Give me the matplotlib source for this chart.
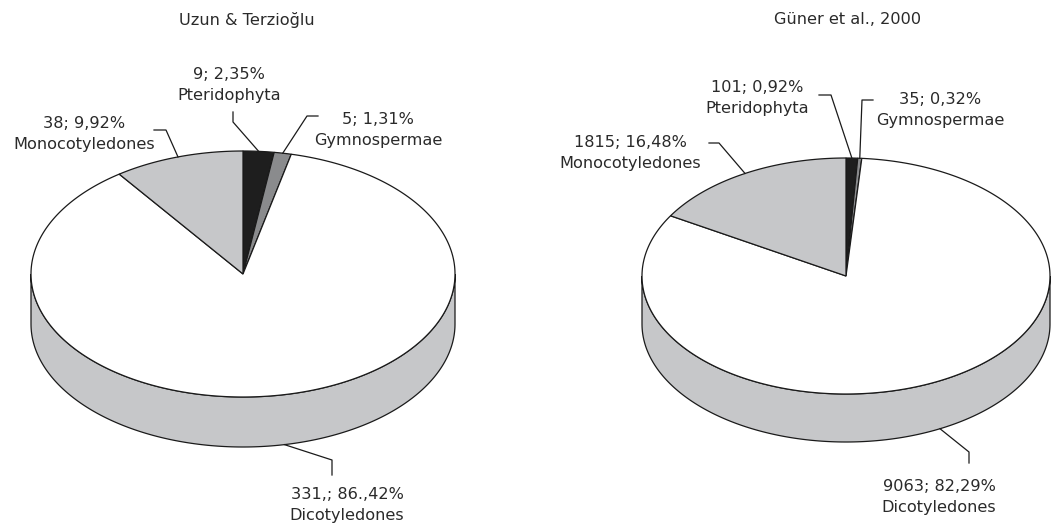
import numpy as np
import matplotlib
matplotlib.use("Agg")
import matplotlib.pyplot as plt
from matplotlib.patches import Polygon

# ---------------- data ----------------
categories = ["Pteridophyta", "Gymnospermae", "Dicotyledones", "Monocotyledones"]
uzun_counts = [9, 5, 331, 38]
guner_counts = [101, 35, 9063, 1815]
uzun_labels = ["9; 2,35%", "5; 1,31%", "331,; 86.,42%", "38; 9,92%"]
guner_labels = ["101; 0,92%", "35; 0,32%", "9063; 82,29%", "1815; 16,48%"]
titles = ["Uzun & Terzioğlu", "Güner et al., 2000"]

# ---------------- style ----------------
top_colors = ["#1e1e1e", "#8a8b8d", "#ffffff", "#c6c7c9"]
side_colors = ["#111111", "#6e6f71", "#c6c7c9", "#a9aaac"]
edge = "#1a1a1a"
txt = "#2a2a2a"
plt.rcParams['font.family'] = ['DejaVu Sans']
FS = 11.6

fig = plt.figure(figsize=(10.52, 5.25), dpi=100)
ax = fig.add_axes([0, 0, 1, 1])
ax.set_xlim(0, 1052)
ax.set_ylim(525, 0)
ax.axis("off")

# geometry of each pie (layout): centre, semi-axes, depth
pies = [
    dict(cx=243, cy=274, a=212, b=123, d=50, title_x=247),
    dict(cx=846, cy=276, a=204, b=118, d=48, title_x=848),
]
# label layout per pie: text block centre, elbow points (near label)
label_layout = [
    [((229, 85), [(233, 122), (233, 112)]),
     ((378, 130), [(307, 116), (318, 116)]),
     ((347, 505), [(332, 460), (332, 475)]),
     ((84, 134), [(166, 130), (154, 130)])],
    [((757, 98), [(831, 95), (819, 95)]),
     ((940, 110), [(862, 100), (873, 100)]),
     ((939, 497), [(969, 452), (969, 463)]),
     ((630, 153), [(719, 143), (709, 143)])],
]


def rim(p, th, down=0.0):
    th = np.asarray(th)
    return np.column_stack([p["cx"] + p["a"] * np.sin(th),
                            p["cy"] - p["b"] * np.cos(th) + down])


def draw_pie(p, counts, labels, layout, title):
    vals = np.array(counts, dtype=float)
    fr = vals / vals.sum()
    bounds = np.concatenate([[0], np.cumsum(fr)]) * 2 * np.pi
    # side faces (front half: theta in [pi/2, 3pi/2])
    for i in range(len(vals)):
        t1 = max(bounds[i], np.pi / 2)
        t2 = min(bounds[i + 1], 3 * np.pi / 2)
        if t2 > t1:
            th = np.linspace(t1, t2, 200)
            pts = np.vstack([rim(p, th), rim(p, th[::-1], p["d"])])
            ax.add_patch(Polygon(pts, closed=True, fc=side_colors[i],
                                 ec=edge, lw=0.9, zorder=1))
    # top faces
    for i in range(len(vals)):
        th = np.linspace(bounds[i], bounds[i + 1], max(4, int(400 * fr[i])))
        pts = np.vstack([[p["cx"], p["cy"]], rim(p, th)])
        ax.add_patch(Polygon(pts, closed=True, fc=top_colors[i],
                             ec=edge, lw=0.9, zorder=2, joinstyle="miter"))
    # labels + leader lines
    for i in range(len(vals)):
        mid = (bounds[i] + bounds[i + 1]) / 2
        down = p["d"] if np.cos(mid) < 0 else 0.0
        start = rim(p, [mid], down)[0]
        (tx, ty), elbow = layout[i]
        xs = [start[0]] + [e[0] for e in elbow]
        ys = [start[1]] + [e[1] for e in elbow]
        ax.plot(xs, ys, color=edge, lw=0.9, zorder=3)
        ax.text(tx, ty - 10.5, labels[i], ha="center", va="center",
                fontsize=FS, color=txt, zorder=4)
        ax.text(tx, ty + 10.5, categories[i], ha="center", va="center",
                fontsize=FS, color=txt, zorder=4)
    ax.text(p["title_x"], 20, title, ha="center", va="center",
            fontsize=FS, color=txt)


draw_pie(pies[0], uzun_counts, uzun_labels, label_layout[0], titles[0])
draw_pie(pies[1], guner_counts, guner_labels, label_layout[1], titles[1])

fig.savefig("out.png", dpi=100, facecolor="white")
